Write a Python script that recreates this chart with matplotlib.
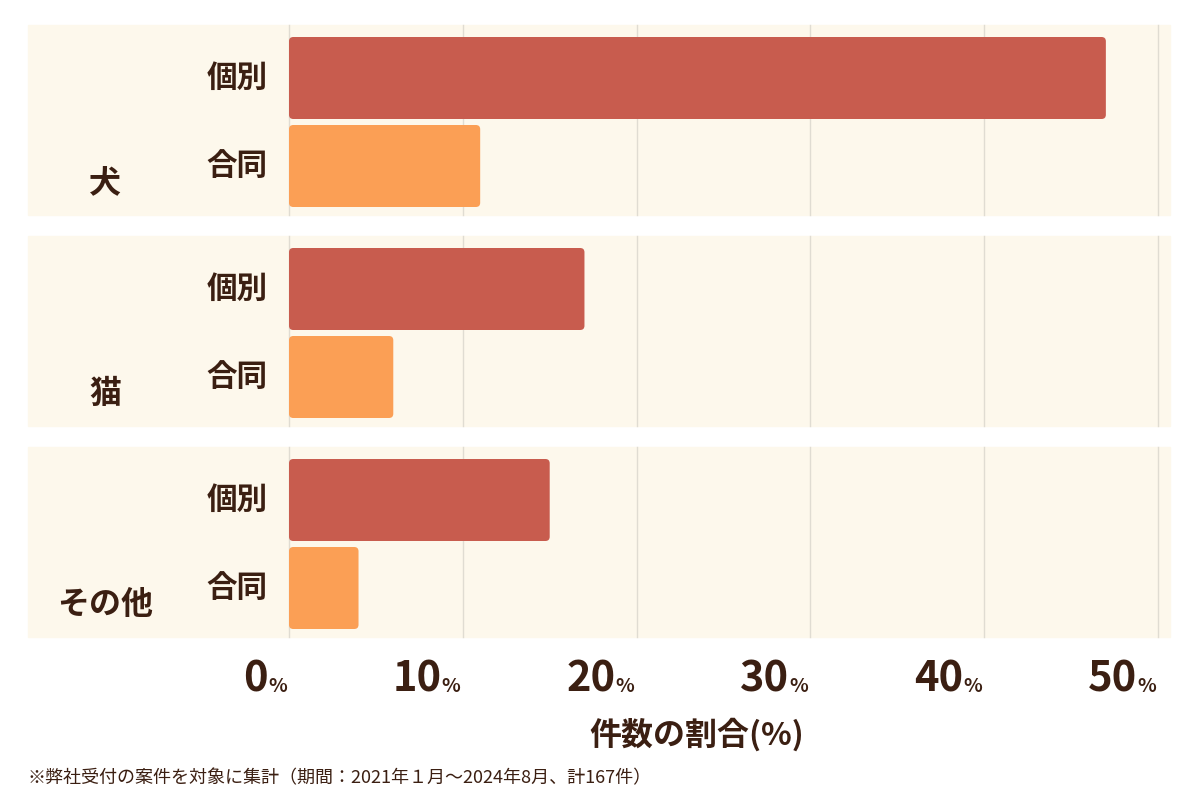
import matplotlib
matplotlib.use("Agg")
import matplotlib.pyplot as plt
from matplotlib.patches import FancyBboxPatch, Rectangle

plt.rcParams['font.family'] = ['Noto Sans CJK JP', 'DejaVu Sans']

animals = ['犬', '猫', 'その他']
types = ['個別', '合同']
kobetsu = [47, 17, 15]
godo = [11, 6, 4]
ticks = [0, 10, 20, 30, 40, 50]
xlabel = '件数の割合(%)'
note = '※弊社受付の案件を対象に集計（期間：2021年１月～2024年8月、計167件）'

TXT = '#3b1f12'
C1, C2 = '#c85c4e', '#fb9f55'
W, H = 1200, 800
fig = plt.figure(figsize=(12, 8), dpi=100)
fig.patch.set_facecolor('white')
ax = fig.add_axes([289/W, (H-637)/H, 869/W, (637-25)/H])
ax.set_xlim(0, 50)
ax.set_ylim(637, 25)
ax.axis('off')
pxx = 869/50.0

for g, (a, k, c) in enumerate(zip(animals, kobetsu, godo)):
    top = 25 + g*211
    bot = top + 190
    ax.add_patch(Rectangle(((28-289)/pxx, top), (1170-28)/pxx, 190, color='#fdf8ec',
                           clip_on=False, zorder=0))
    for t in ticks:
        ax.plot([t, t], [top, bot], color='#e0dcd2', lw=1, zorder=1, clip_on=False)
    for i, (v, col) in enumerate([(k, C1), (c, C2)]):
        yc = top + 53 + i*88
        ax.add_patch(FancyBboxPatch((0, yc-41), v, 82,
                     boxstyle='round,pad=0,rounding_size=0.25', mutation_aspect=17,
                     fc=col, ec='none', zorder=2))
        ax.text((237-289)/pxx, yc, types[i], ha='center', va='center',
                fontsize=22, fontweight='bold', color=TXT)
    ax.text((105-289)/pxx, top + 158, a, ha='center', va='center',
            fontsize=23, fontweight='bold', color=TXT)

for t in ticks:
    ax.text(t - 21/pxx, 680, str(t), ha='right', va='center', fontsize=30,
            fontweight='bold', color=TXT, clip_on=False)
    ax.text(t - 21/pxx, 687, '%', ha='left', va='center', fontsize=14,
            fontweight='bold', color=TXT, clip_on=False)
ax.text((697-289)/pxx, 735, xlabel, ha='center', va='center', fontsize=23,
        fontweight='bold', color=TXT, clip_on=False)
fig.text(28/W, 1-778/H, note, ha='left', va='center', fontsize=13, color=TXT)
fig.savefig('out.png', dpi=100)
